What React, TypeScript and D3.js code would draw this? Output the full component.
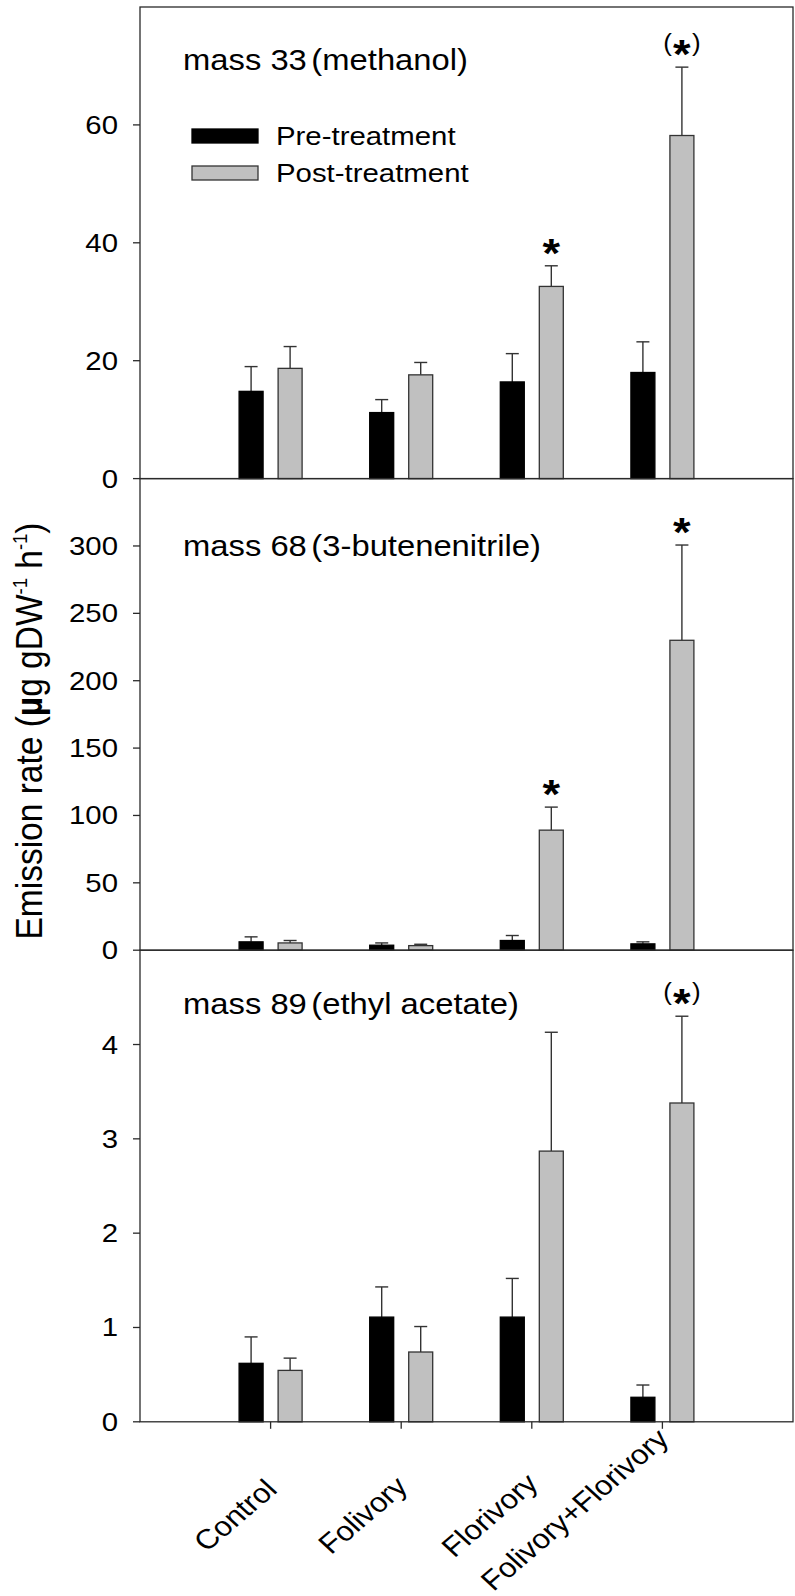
import React from "react";
import * as d3 from "d3";

// ---------- data ----------
const categories = ["Control", "Folivory", "Florivory", "Folivory+Florivory"];
const seriesNames = ["Pre-treatment", "Post-treatment"];

const methanolPre = [14.8, 11.2, 16.4, 18.0];
const methanolPreSE = [4.2, 2.2, 4.8, 5.2];
const methanolPost = [18.7, 17.6, 32.6, 58.2];
const methanolPostSE = [3.7, 2.1, 3.5, 11.6];
const methanolSig = ["", "", "*", "(*)"];
const methanolTicks = [0, 20, 40, 60];

const butenePre = [6.2, 3.7, 7.2, 4.7];
const butenePreSE = [3.7, 1.7, 3.7, 1.5];
const butenePost = [5.4, 3.4, 89.1, 230];
const butenePostSE = [1.8, 1.0, 17.1, 70.7];
const buteneSig = ["", "", "*", "*"];
const buteneTicks = [0, 50, 100, 150, 200, 250, 300];

const ethylPre = [0.62, 1.11, 1.11, 0.26];
const ethylPreSE = [0.28, 0.32, 0.41, 0.13];
const ethylPost = [0.545, 0.74, 2.87, 3.38];
const ethylPostSE = [0.13, 0.27, 1.26, 0.92];
const ethylSig = ["", "", "", "(*)"];
const ethylTicks = [0, 1, 2, 3, 4];

const panels = [
  { title: ["mass 33", "(methanol)"], max: 80, pre: methanolPre, preSE: methanolPreSE, post: methanolPost, postSE: methanolPostSE, sig: methanolSig, ticks: methanolTicks, titleDy: 63 },
  { title: ["mass 68", "(3-butenenitrile)"], max: 350, pre: butenePre, preSE: butenePreSE, post: butenePost, postSE: butenePostSE, sig: buteneSig, ticks: buteneTicks, titleDy: 77 },
  { title: ["mass 89", "(ethyl acetate)"], max: 5, pre: ethylPre, preSE: ethylPreSE, post: ethylPost, postSE: ethylPostSE, sig: ethylSig, ticks: ethylTicks, titleDy: 64 },
];

// ---------- layout ----------
const W = 795;
const H = 1596;
const left = 140;
const right = 793;
const top = 7;
const panelH = 471.6;
const SX = 1.13; // horizontal stretch of text
const FONT = "'Liberation Sans', Arial, Helvetica, sans-serif";
const stroke = "#2a2a2a";
const grayFill = "#c0c0c0";
const XLAB_SIZE = 27.5;
const XLAB_ROT = 44; // degrees
const XLAB_CENTER_DY = 95; // vertical centre of rotated label box below axis

const x = d3.scaleLinear().domain([0, categories.length + 1]).range([left, right]);
const sub = d3.scaleBand().domain(seriesNames).range([-31.5, 31.5]).paddingInner(0.385);

function measure(txt: string, size: number): number {
  try {
    const ctx = document.createElement("canvas").getContext("2d");
    if (ctx) {
      ctx.font = `${size}px 'Liberation Sans', Arial, sans-serif`;
      return ctx.measureText(txt).width;
    }
  } catch (e) {}
  return txt.length * 0.5 * size;
}

function T({ x: tx, y: ty, children, size, anchor = "start", weight = "normal", rot = 0 }: any) {
  return (
    <text
      transform={`translate(${tx},${ty}) scale(${SX},1)${rot ? ` rotate(${rot})` : ""}`}
      fontSize={size}
      fontFamily={FONT}
      textAnchor={anchor}
      fontWeight={weight}
      fill="#000"
    >
      {children}
    </text>
  );
}

function Star({ cx, cy, paren }: { cx: number; cy: number; paren: boolean }) {
  const aSize = 40;
  const base = cy + 0.6 * aSize;
  if (!paren) {
    return <T x={cx} y={base} size={aSize} anchor="middle" weight="bold">*</T>;
  }
  const pSize = 23;
  const pBase = cy + 0.27 * pSize + 1;
  return (
    <g>
      <T x={cx - 10} y={pBase} size={pSize} anchor="end">(</T>
      <T x={cx} y={base} size={aSize} anchor="middle" weight="bold">*</T>
      <T x={cx + 10} y={pBase} size={pSize} anchor="start">)</T>
    </g>
  );
}

function Panel({ p, idx }: any) {
  const y0 = top + idx * panelH;
  const y1 = y0 + panelH;
  const y = d3.scaleLinear().domain([0, p.max]).range([y1, y0]);
  const isLast = idx === panels.length - 1;
  const series = [
    { name: seriesNames[0], vals: p.pre, se: p.preSE, fill: "#000", st: "#000" },
    { name: seriesNames[1], vals: p.post, se: p.postSE, fill: grayFill, st: "#333" },
  ];
  const bw = sub.bandwidth();
  const ra = (XLAB_ROT * Math.PI) / 180;
  return (
    <g>
      {series.map((s) =>
        categories.map((c, i) => {
          const bx = x(i + 1) + (sub(s.name) as number);
          const cx = bx + bw / 2;
          const yt = y(s.vals[i]);
          const ye = y(s.vals[i] + s.se[i]);
          return (
            <g key={s.name + c}>
              <line x1={cx} x2={cx} y1={yt} y2={ye} stroke="#333" strokeWidth={1.4} />
              <line x1={cx - 6.5} x2={cx + 6.5} y1={ye} y2={ye} stroke="#333" strokeWidth={1.4} />
              <rect x={bx} y={yt} width={bw} height={y1 - yt} fill={s.fill} stroke={s.st} strokeWidth={1.3} />
            </g>
          );
        })
      )}
      {p.sig.map((sg: string, i: number) => {
        if (!sg) return null;
        const cx = x(i + 1) + (sub(seriesNames[1]) as number) + bw / 2;
        const ye = y(p.post[i] + p.postSE[i]);
        return <Star key={i} cx={cx} cy={ye - 23} paren={sg.startsWith("(")} />;
      })}
      <rect x={left} y={y0} width={right - left} height={panelH} fill="none" stroke={stroke} strokeWidth={1.3} />
      {p.ticks.map((t: number) => (
        <g key={t}>
          <line x1={left - 7} x2={left} y1={y(t)} y2={y(t)} stroke={stroke} strokeWidth={1.3} />
          <T x={118} y={y(t) + 9} size={26} anchor="end">{String(t)}</T>
        </g>
      ))}
      <T x={183} y={y0 + p.titleDy} size={29}>
        {p.title[0]}
        <tspan dx={4}>{p.title[1]}</tspan>
      </T>
      {isLast &&
        categories.map((c, i) => {
          const L = measure(c, XLAB_SIZE);
          const ex = x(i + 1) + 8;
          let ey = y1 + XLAB_CENTER_DY - (L / 2) * Math.sin(ra) + 0.26 * XLAB_SIZE * Math.cos(ra);
          const bottom = ey + L * Math.sin(ra);
          if (bottom > H - 4) ey -= bottom - (H - 4);
          return (
            <g key={c}>
              <line x1={x(i + 1)} x2={x(i + 1)} y1={y1} y2={y1 + 7} stroke={stroke} strokeWidth={1.3} />
              <T x={ex} y={ey} size={XLAB_SIZE} anchor="end" rot={-XLAB_ROT}>{c}</T>
            </g>
          );
        })}
    </g>
  );
}

export default function App() {
  return (
    <svg width={W} height={H} style={{ position: "absolute", left: 0, top: 0, background: "#fff" }}>
      <rect x={0} y={0} width={W} height={H} fill="#fff" />
      {panels.map((p, i) => (
        <Panel key={i} p={p} idx={i} />
      ))}
      <rect x={192} y={129} width={66} height={14} fill="#000" stroke="#000" strokeWidth={1.3} />
      <rect x={192} y={166} width={66} height={14} fill={grayFill} stroke="#333" strokeWidth={1.3} />
      <T x={276} y={145} size={26}>{seriesNames[0]}</T>
      <T x={276} y={182} size={26}>{seriesNames[1]}</T>
      <text
        transform={`translate(42,731) scale(${SX},1) rotate(-90)`}
        fontSize={33.5}
        fontFamily={FONT}
        textAnchor="middle"
        fill="#000"
      >
        Emission rate (<tspan fontWeight="bold">µ</tspan>g gDW
        <tspan fontSize={18.5} dy={-13.5}>-1</tspan>
        <tspan dy={13.5}> h</tspan>
        <tspan fontSize={18.5} dy={-13.5}>-1</tspan>
        <tspan dy={13.5}>)</tspan>
      </text>
    </svg>
  );
}
